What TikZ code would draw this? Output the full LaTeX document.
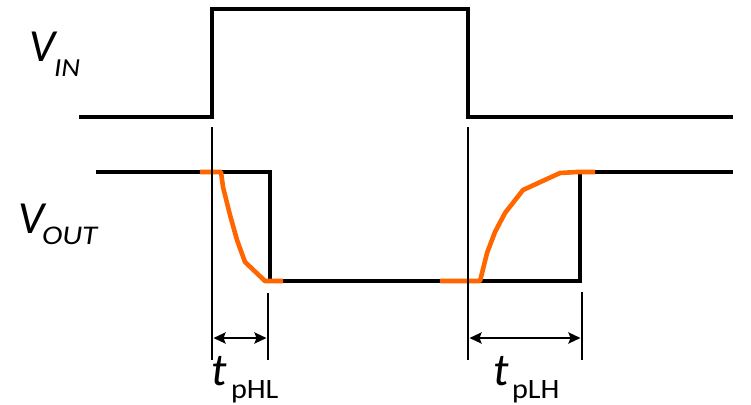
\documentclass[tikz,border=0pt]{standalone}
\usepackage{fontspec}
\setmainfont{Carlito}
\usetikzlibrary{arrows.meta}
\definecolor{sigorange}{RGB}{255,102,0}
\tikzset{
  signal/.style={line width=3.7pt, line join=miter},
  guide/.style={line width=1.4pt},
  timearrow/.style={line width=2.8pt, arrows={Stealth[length=12pt,width=11pt,inset=2pt]-Stealth[length=12pt,width=11pt,inset=2pt]}},
  real/.style={line width=4.6pt, color=sigorange, line join=round},
  lbl/.style={anchor=base west, inner sep=0pt, outer sep=0pt}
}
\newcommand{\bigsym}[1]{{\fontsize{46}{46}\selectfont\itshape #1}}
\newcommand{\subtxt}[3]{\scalebox{#2}[1]{\fontsize{#1}{#1}\selectfont #3}}
\begin{document}
\begin{tikzpicture}[x=1pt,y=-1pt]
\useasboundingbox (0,0) rectangle (751,404);
% input signal
\draw[signal] (79,117) -- (212,117) -- (212,9) -- (468,9) -- (468,117) -- (733,117);
% ideal output signal
\draw[signal] (96,172) -- (270,172) -- (270,281) -- (580,281) -- (580,172) -- (733,172);
% real output
\draw[real] (200,172) -- (221,172) -- (223,187) -- (230,215) -- (237,240) -- (245,262) -- (265,281) -- (283,281);
\draw[real] (440,281) -- (480,281) -- (487,253) -- (495,232) -- (505,213) -- (523,190) -- (560,173) -- (577,172) -- (595,172);
% guides
\coordinate (g1t) at (212,127); \coordinate (g1b) at (212,360);
\coordinate (g2t) at (268,293); \coordinate (g2b) at (268,360);
\coordinate (g3t) at (468,127); \coordinate (g3b) at (468,360);
\coordinate (g4t) at (582,292); \coordinate (g4b) at (582,360);
\draw[guide] (g1t) -- (g1b);
\draw[guide] (g2t) -- (g2b);
\draw[guide] (g3t) -- (g3b);
\draw[guide] (g4t) -- (g4b);
% delay arrows
\coordinate (a1l) at (213.5,338); \coordinate (a1r) at (266.5,338);
\coordinate (a2l) at (469.5,338); \coordinate (a2r) at (580.5,338);
\draw[timearrow] (a1l) -- (a1r);
\draw[timearrow] (a2l) -- (a2r);
% labels
\node[lbl] (vin) at (29,62) {\bigsym{V}};
\node[lbl] (vinsub) at (54,76) {\subtxt{26}{1.12}{\itshape IN}};
\node[lbl] (vout) at (18,233) {\bigsym{V}};
\node[lbl] (voutsub) at (42,244) {\subtxt{27}{1.15}{\itshape OUT}};
\node[lbl] (thl) at (211,385) {\bigsym{t}};
\node[lbl] (thlsub) at (231,398) {\subtxt{28}{1.08}{pHL}};
\node[lbl] (tlh) at (493,385) {\bigsym{t}};
\node[lbl] (tlhsub) at (512,398) {\subtxt{28}{1.08}{pLH}};
\end{tikzpicture}
\end{document}
